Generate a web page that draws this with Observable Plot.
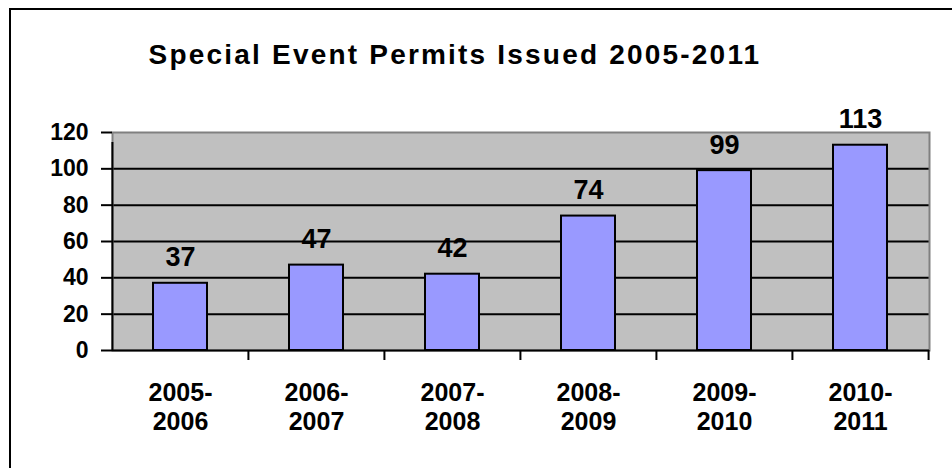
<!DOCTYPE html>
<html>
<head>
<meta charset="utf-8">
<script src="https://cdn.jsdelivr.net/npm/d3@7"></script>
<script src="https://cdn.jsdelivr.net/npm/@observablehq/plot@0.6"></script>
<style>
  html, body { margin: 0; padding: 0; background: #fff; }
  #wrap { position: relative; width: 952px; height: 468px; overflow: hidden; font-family: "Liberation Sans", Arial, sans-serif; }
  #border { position: absolute; left: 9px; top: 8px; width: 1100px; height: 1000px; border-left: 2px solid #000; border-top: 2px solid #000; }
  #title { position: absolute; left: 0; width: 910px; top: 41px; text-align: center; font-size: 28px; line-height: 28px; font-weight: bold; letter-spacing: 2.2px; color: #000; }
  #chart { position: absolute; left: 0; top: 0; }
</style>
</head>
<body>
<div id="wrap">
  <div id="chart"></div>
  <div id="border"></div>
  <div id="title">Special Event Permits Issued 2005-2011</div>
</div>
<script>
const periods = ["2005-2006", "2006-2007", "2007-2008", "2008-2009", "2009-2010", "2010-2011"];
const permits = [37, 47, 42, 74, 99, 113];
const yTicks = [0, 20, 40, 60, 80, 100, 120];
const gridValues = [20, 40, 60, 80, 100];

const data = periods.map((p, i) => ({period: p, value: permits[i]}));

const W = 952, H = 468, mL = 112, mR = 23, mT = 132, mB = 118;
const step = (W - mL - mR) / periods.length;

const chart = Plot.plot({
  width: W,
  height: H,
  marginLeft: mL,
  marginRight: mR,
  marginTop: mT,
  marginBottom: mB,
  style: {fontFamily: "'Liberation Sans', Arial, sans-serif", fontWeight: "bold", color: "#000", background: "transparent"},
  x: {domain: periods, paddingInner: 0.6, paddingOuter: 0.3, label: null},
  y: {domain: [0, 120], label: null},
  marks: [
    Plot.frame({fill: "#c0c0c0"}),
    Plot.gridY(gridValues, {stroke: "#000", strokeOpacity: 1, strokeWidth: 2}),
    Plot.frame({stroke: "#808080", strokeWidth: 2}),
    Plot.barY(data, {x: "period", y: "value", fill: "#9999ff", stroke: "#000", strokeWidth: 2}),
    Plot.ruleY([0], {stroke: "#000", strokeWidth: 2}),
    Plot.ruleX([periods[0]], {x: d => d, dx: -step / 2, y1: 0, y2: 120, insetBottom: -10, stroke: "#000", strokeWidth: 2}),
    Plot.ruleX(periods.slice(1), {x: d => d, dx: -step / 2, y1: 0, y2: 0, insetBottom: -10, stroke: "#000", strokeWidth: 2}),
    Plot.ruleX([periods[periods.length - 1]], {x: d => d, dx: step / 2, y1: 0, y2: 0, insetBottom: -10, stroke: "#000", strokeWidth: 2}),
    Plot.axisY({ticks: yTicks, tickSize: 11, tickPadding: 13, fontSize: 23, fontWeight: "bold", strokeWidth: 2, label: null}),
    Plot.axisX({tickSize: 0, tickPadding: 30, fontSize: 25, fontWeight: "bold", lineHeight: 1.16, label: null, tickFormat: d => d.replace("-", "-\n")}),
    Plot.text(data, {x: "period", y: "value", text: d => String(d.value), lineAnchor: "bottom", dy: -17, fontSize: 27, fontWeight: "bold", fill: "#000"})
  ]
});
document.getElementById("chart").appendChild(chart);
</script>
</body>
</html>
